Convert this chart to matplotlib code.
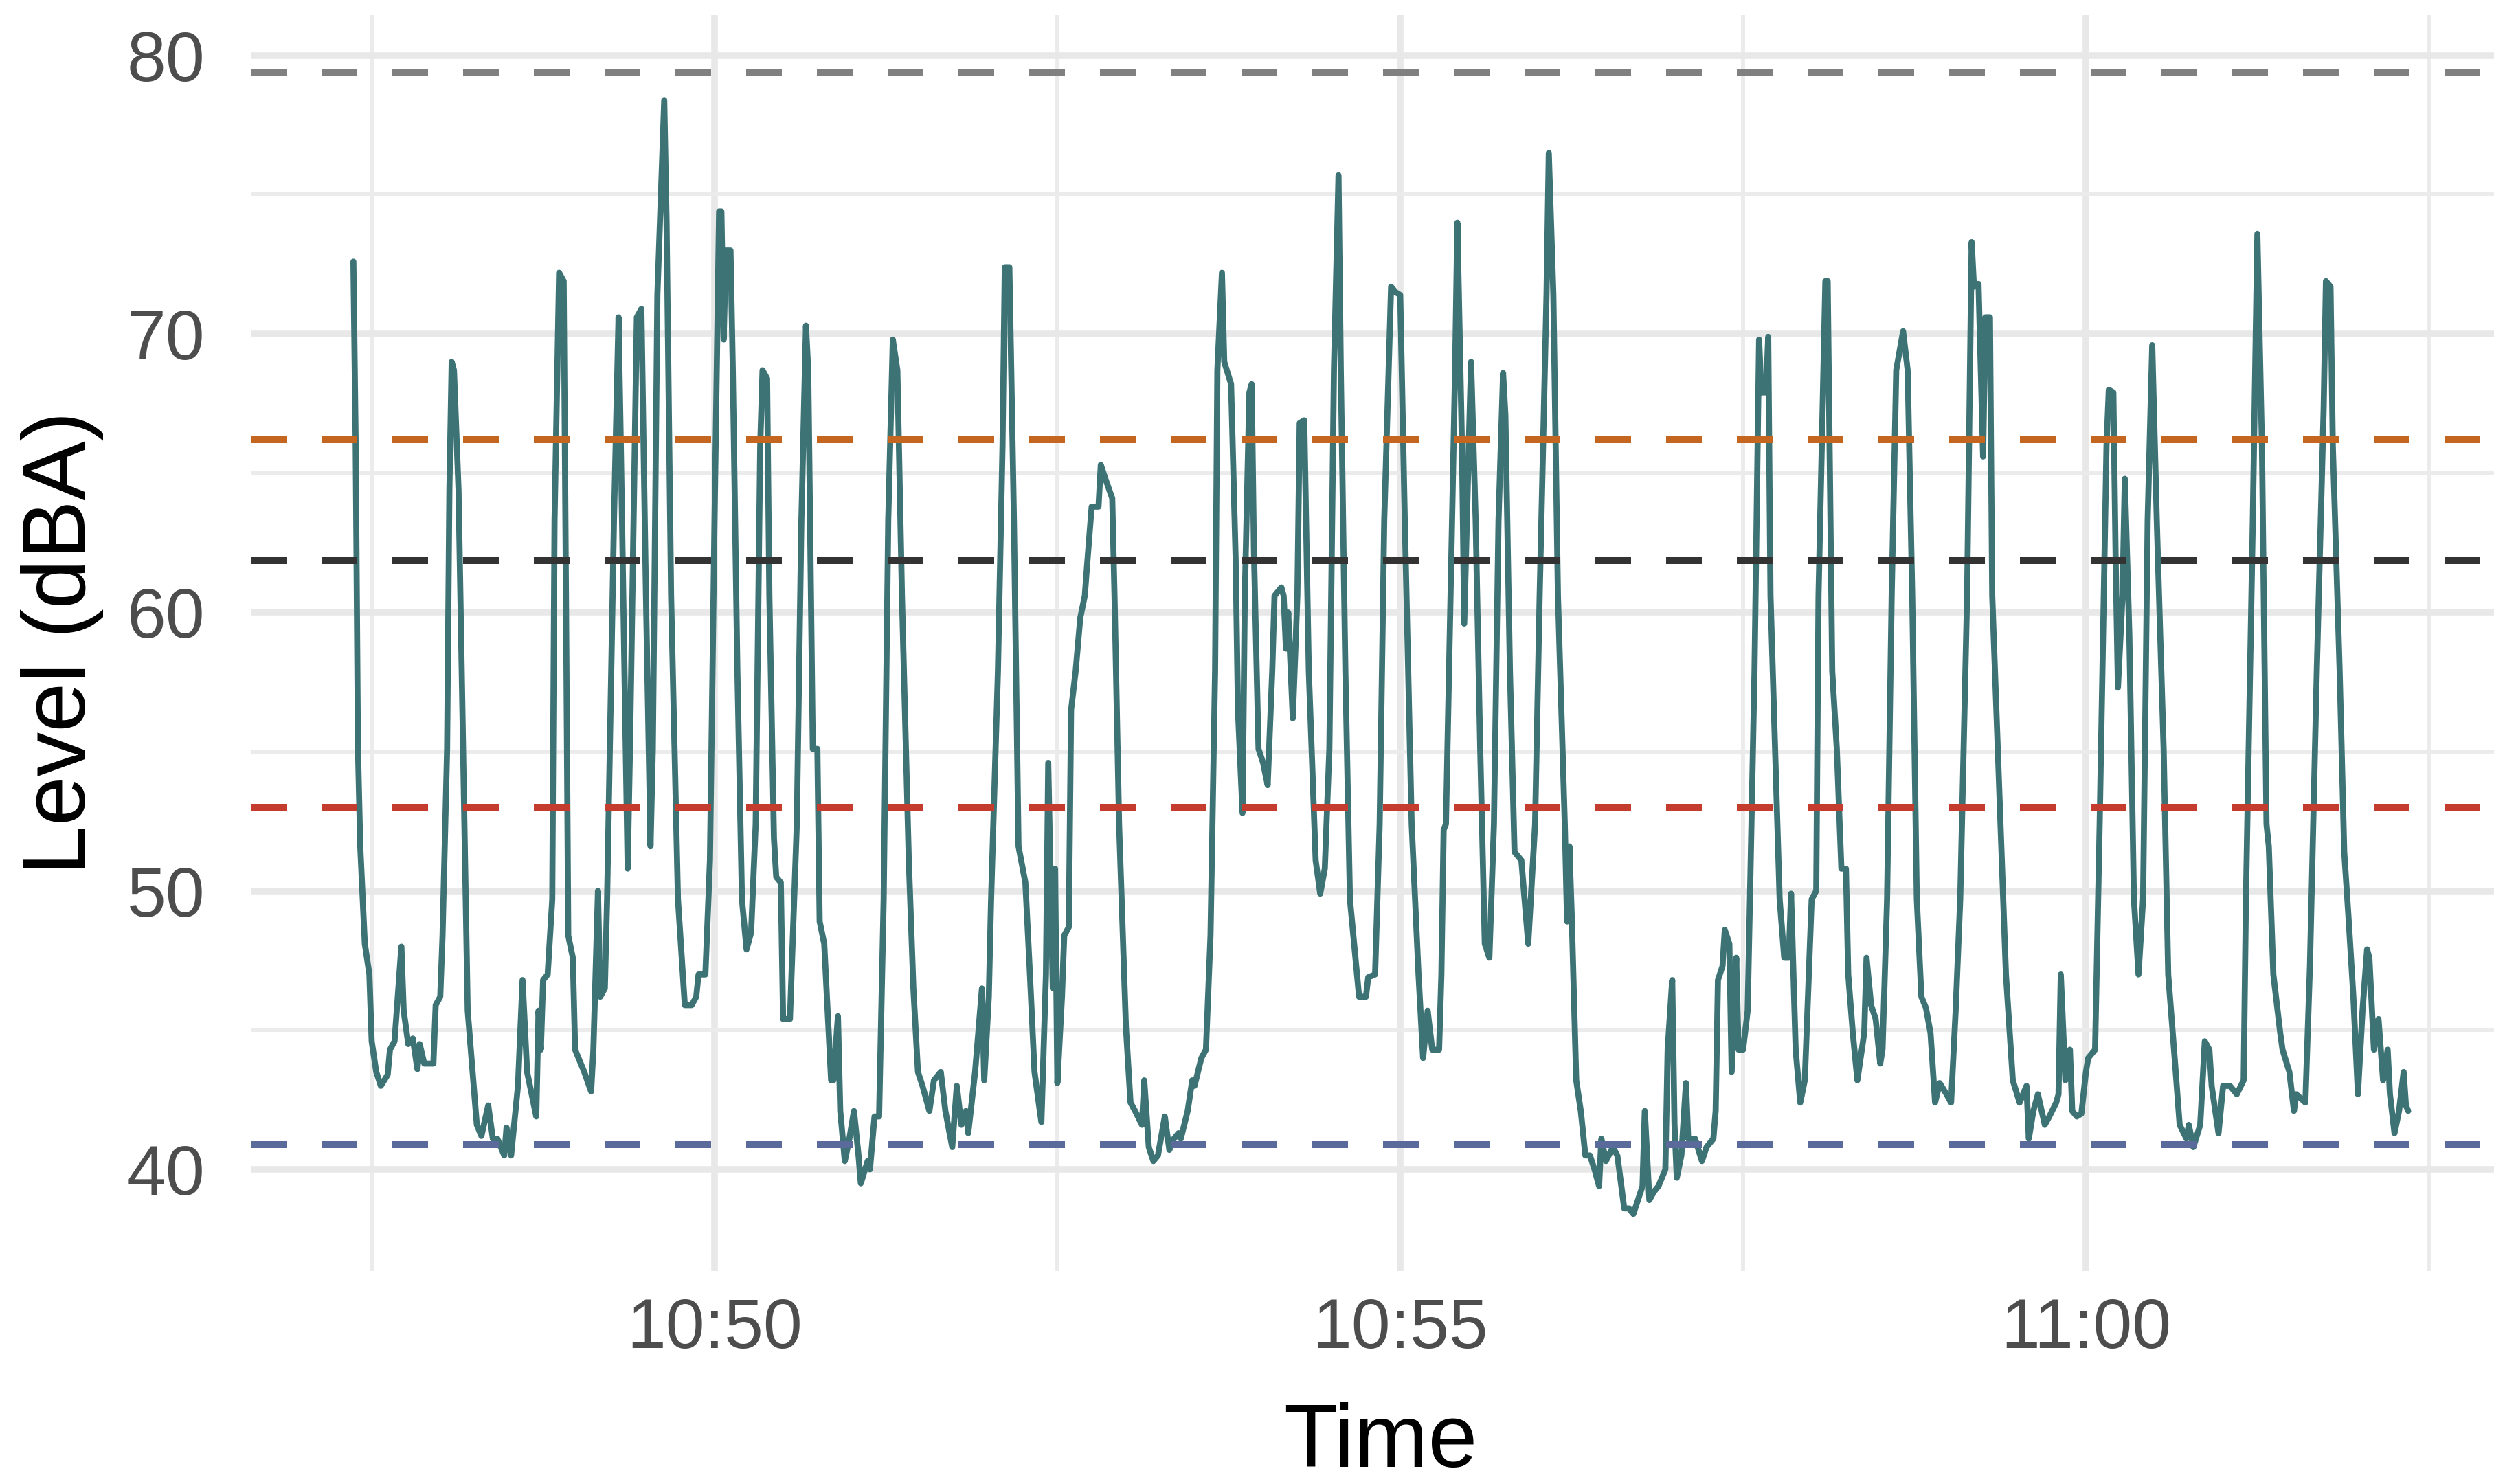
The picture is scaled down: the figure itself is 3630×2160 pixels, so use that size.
import numpy as np
import pandas as pd
import matplotlib
matplotlib.use("Agg")
import matplotlib.pyplot as plt
import matplotlib.dates as mdates
from matplotlib.ticker import MultipleLocator

#%% data: seconds after 10:47:00 and level in dBA

secs = [22, 23, 24, 25, 27, 29, 30, 32, 34, 37, 38, 40, 43, 44, 46, 48, 50, 51, 53, 57,
        58, 60, 61, 63, 64, 65, 66, 68, 70, 72, 76, 78, 81, 83, 85, 88, 89, 91, 94, 96,
        98, 102, 103, 104, 105, 107, 109, 110, 112, 114, 115, 116, 118, 119, 121, 123, 126, 127, 129, 130,
        132, 133, 136, 138, 139, 142, 143, 146, 148, 150, 152, 153, 155, 158, 159, 161, 164, 167, 170, 172,
        173, 176, 178, 180, 182, 183, 184, 185, 187, 188, 190, 192, 194, 196,
        198, 200, 201, 203, 204, 206, 207, 209, 210, 213, 216, 218, 220, 221, 223, 225, 226, 228, 231, 232,
        234, 235, 237, 239, 241, 243, 244, 247, 248, 250, 252, 254, 256, 258, 260, 262, 265, 267, 269, 271,
        274, 276, 279, 281, 284, 286, 288, 290, 291, 294, 297, 298, 300, 301, 304, 306, 307, 309, 311, 313,
        316, 318, 320, 323, 325, 326, 328, 329, 330, 332, 333, 335, 336, 338, 340, 342, 343, 345, 348, 349,
        351, 354, 355, 357, 360, 362, 364, 367, 368, 370, 372, 374, 377, 379, 381, 383,
        384, 387, 389, 390, 393, 395, 397, 399, 400, 402, 403, 406, 408, 409, 411, 412, 414, 415, 416, 418,
        420, 422, 424, 425, 428, 429, 430, 431, 433, 435, 436, 438, 440, 443, 445, 447, 449, 451, 453, 454,
        456, 458, 462, 465, 466, 469, 471, 473, 476, 478, 480, 482, 485, 488, 490, 492, 494, 497, 498, 499,
        500, 502, 504, 505, 507, 508, 510, 511, 513, 515, 517, 519, 521, 523, 525, 526, 528, 530, 533, 536,
        539, 541, 544, 545, 547, 549, 552, 553, 554, 555, 557, 559, 561, 563, 565, 567, 568, 570,
        573, 575, 578, 580, 582, 584, 586, 587, 589, 591, 593, 596, 597, 599, 600, 601, 603, 605, 606, 609,
        612, 614, 617, 618, 619, 621, 622, 624, 625, 627, 628, 630, 632, 633, 635, 637, 638, 640, 641, 642,
        644, 646, 648, 650, 651, 653, 655, 657, 660, 662, 663, 666, 667, 669, 671, 673, 675, 676, 678, 680,
        683, 684, 686, 688, 690, 691, 693, 695, 697, 700, 702, 704, 706, 708, 710, 712, 714, 716, 719, 721,
        723, 725, 728, 730, 731, 733, 735, 736, 738, 739, 742, 745, 748, 751, 754, 755, 757,
        759, 762, 764, 767, 768, 769, 771, 773, 774, 776, 778, 780, 781, 784, 786, 789, 790, 792, 793, 794,
        796, 797, 799, 801, 803, 805, 807, 809, 811, 814, 816, 819, 821, 824, 825, 827, 830, 832, 834, 835,
        838, 840, 843, 846, 849, 850, 853, 855, 857, 859, 860, 862, 865, 866, 869, 871, 872, 876, 878, 881,
        884, 885, 887, 888, 891, 893, 895, 897, 899, 901, 903, 904, 906, 908, 910, 912, 913, 915, 917, 919,
        920, 921]

level = [72.6, 66.0, 55.1, 51.6, 48.1, 47.0, 44.6, 43.5, 43.0, 43.4, 44.3, 44.6, 48.0, 45.7, 44.5, 44.7, 43.6, 44.5, 43.8, 43.8,
         45.9, 46.2, 48.4, 55.1, 64.4, 69.0, 68.7, 64.4, 55.1, 45.7, 41.6, 41.2, 42.3, 41.1, 41.1, 40.5, 41.5, 40.5, 43.0, 46.8,
         43.5, 41.9, 45.7, 44.3, 46.8, 47.0, 49.7, 63.3, 72.2, 71.9, 60.6, 48.4, 47.6, 44.3, 43.9, 43.5, 42.8, 44.3, 50.0, 46.2,
         46.5, 49.7, 63.3, 70.6, 66.0, 50.8, 55.1, 70.6, 70.9, 60.6, 51.6, 55.1, 71.4, 78.4, 74.1, 60.6, 49.7, 45.9, 45.9, 46.2,
         47.0, 47.0, 51.1, 63.3, 74.4, 74.4, 69.8, 73.0, 73.0, 68.7, 57.9, 49.7, 47.9, 48.5,
         52.4, 66.0, 68.7, 68.4, 60.6, 51.9, 50.5, 50.3, 45.4, 45.4, 52.4, 63.3, 70.3, 68.7, 55.1, 55.1, 48.9, 48.1, 43.2, 43.2,
         45.5, 42.1, 40.3, 41.1, 42.1, 40.5, 39.5, 40.3, 40.0, 41.9, 41.9, 49.7, 63.3, 69.8, 68.7, 60.6, 51.1, 46.5, 43.5, 43.0,
         42.1, 43.2, 43.5, 42.1, 40.8, 43.0, 41.6, 42.1, 41.3, 43.5, 46.5, 43.2, 46.2, 49.7, 57.9, 66.0, 72.4, 72.4, 63.3, 51.6,
         50.3, 47.0, 43.5, 41.7, 47.0, 54.6, 46.5, 50.8, 43.1, 46.2, 48.4, 48.7, 56.5, 57.9, 59.8, 60.6, 61.7, 63.8, 63.8, 65.3,
         64.8, 64.1, 60.6, 52.4, 45.1, 42.4, 42.1, 41.6, 43.2, 40.8, 40.3, 40.5, 41.9, 40.7, 41.1, 41.3,
         41.1, 42.1, 43.2, 43.0, 44.0, 44.3, 48.4, 57.9, 68.7, 72.2, 69.0, 68.2, 61.9, 56.5, 52.8, 60.6, 67.9, 68.2, 62.2, 55.1,
         54.6, 53.8, 57.9, 60.6, 60.9, 60.6, 58.7, 60.0, 56.2, 60.6, 66.8, 66.9, 57.9, 51.1, 49.9, 50.8, 55.1, 68.7, 75.7, 68.7,
         57.9, 49.7, 46.2, 46.2, 46.9, 47.0, 52.4, 63.3, 71.7, 71.5, 71.4, 63.3, 52.4, 47.0, 44.0, 45.7, 44.3, 44.3, 47.0, 52.2,
         52.4, 60.6, 68.7, 74.0, 66.0, 59.6, 66.0, 69.0, 63.3, 55.1, 48.1, 47.6, 52.4, 63.3, 68.6, 67.1, 57.9, 51.4, 51.1, 48.1,
         52.4, 60.6, 71.4, 76.5, 71.4, 60.6, 52.4, 48.9, 51.6, 49.2, 43.2, 42.1, 40.5, 40.5, 40.0, 39.4, 41.1, 40.3,
         40.8, 40.5, 38.6, 38.6, 38.4, 38.9, 39.4, 42.1, 38.9, 39.2, 39.4, 40.0, 44.3, 46.8, 41.6, 39.7, 40.5, 43.1, 41.1, 41.1,
         40.3, 40.8, 41.1, 42.1, 46.8, 47.3, 48.6, 48.1, 43.5, 47.6, 44.3, 44.3, 45.7, 49.7, 57.9, 69.8, 67.9, 67.9, 69.9, 60.6,
         55.1, 49.7, 47.6, 47.6, 49.9, 44.3, 42.4, 43.2, 49.7, 50.0, 60.6, 71.9, 71.9, 57.9, 55.1, 50.8, 50.8, 47.0, 44.9, 43.2,
         44.9, 47.6, 45.9, 45.4, 43.8, 44.3, 49.7, 60.6, 68.7, 70.1, 68.7, 60.6, 49.7, 46.2, 45.8, 44.9, 42.4, 43.1, 42.7, 42.4,
         45.7, 49.7, 60.6, 73.3, 71.7, 71.8, 65.6, 70.6, 70.6, 60.6, 53.8, 47.0, 43.2, 42.4, 43.0, 41.1, 42.1,
         42.7, 41.6, 41.9, 42.4, 42.7, 47.0, 43.2, 44.3, 42.1, 41.9, 42.0, 43.5, 44.0, 44.3, 52.4, 66.0, 68.0, 67.9, 61.9, 57.3,
         60.6, 64.8, 59.2, 49.7, 47.0, 49.7, 63.3, 69.6, 63.3, 55.1, 47.0, 43.8, 41.6, 41.1, 41.6, 40.8, 41.6, 44.6, 44.3, 43.0,
         41.3, 43.0, 43.0, 42.7, 43.2, 49.7, 63.3, 73.6, 66.0, 52.4, 51.6, 47.0, 44.9, 44.3, 43.5, 42.1, 42.7, 42.4, 47.3, 57.9,
         67.3, 71.9, 71.7, 66.0, 57.9, 51.4, 48.9, 46.2, 42.7, 45.7, 47.9, 47.6, 44.3, 45.4, 43.2, 44.3, 42.7, 41.3, 42.1, 43.5,
         42.3, 42.1]

# reference levels drawn as dashed lines
ref_levels = [79.4, 66.2, 61.85, 53.0, 40.9]
ref_colors = ["#808080", "#C4661F", "#333333", "#C43C2E", "#5A6A9A"]

#%%

plt.rcParams['font.family'] = ['Liberation Sans', 'DejaVu Sans']

t0 = pd.Timestamp("2020-01-01 10:47:00")
times = (t0 + pd.to_timedelta(secs, unit="s")).to_pydatetime()
xnum = mdates.date2num(times)

fig = plt.figure(figsize=(12.1, 7.2), dpi=300)
ax = fig.add_axes([0.1005, 0.1435, 0.9063, 0.8463])

ax.plot(times, level, color="#3D7375", lw=2.1, solid_joinstyle="round",
        solid_capstyle="round", zorder=2)
for lv, c in zip(ref_levels, ref_colors):
    ax.axhline(lv, color=c, lw=2.4, dashes=(5.2, 5.1), zorder=3)

# ggplot style 5% expansion
xr = xnum.max() - xnum.min()
ax.set_xlim(xnum.min() - 0.05*xr, xnum.max() + 0.05*xr)
allv = np.r_[level, ref_levels]
yr = allv.max() - allv.min()
ax.set_ylim(allv.min() - 0.05*yr, allv.max() + 0.05*yr)

ax.xaxis.set_major_locator(mdates.MinuteLocator(byminute=range(0, 60, 5)))
ax.xaxis.set_minor_locator(mdates.RRuleLocator(
    mdates.rrulewrapper(mdates.MINUTELY, byminute=list(range(2, 60, 5)), bysecond=30)))
ax.xaxis.set_major_formatter(mdates.DateFormatter("%H:%M"))
ax.yaxis.set_major_locator(MultipleLocator(10))
ax.yaxis.set_minor_locator(MultipleLocator(5))

ax.grid(which="major", color="#E8E8E8", lw=2.3, zorder=0)
ax.grid(which="minor", color="#EBEBEB", lw=1.4, zorder=0)
ax.set_axisbelow(True)
for s in ax.spines.values():
    s.set_visible(False)

ax.tick_params(which="both", length=0)
ax.tick_params(axis="y", labelsize=24.5, labelcolor="#4D4D4D", pad=16)
ax.tick_params(axis="x", labelsize=24.5, labelcolor="#4D4D4D", pad=9)

ax.set_xlabel("Time", fontsize=31, labelpad=14)
ax.set_ylabel("Level (dBA)", fontsize=31, labelpad=8)

fig.savefig("out.png", dpi=300, facecolor="white")
